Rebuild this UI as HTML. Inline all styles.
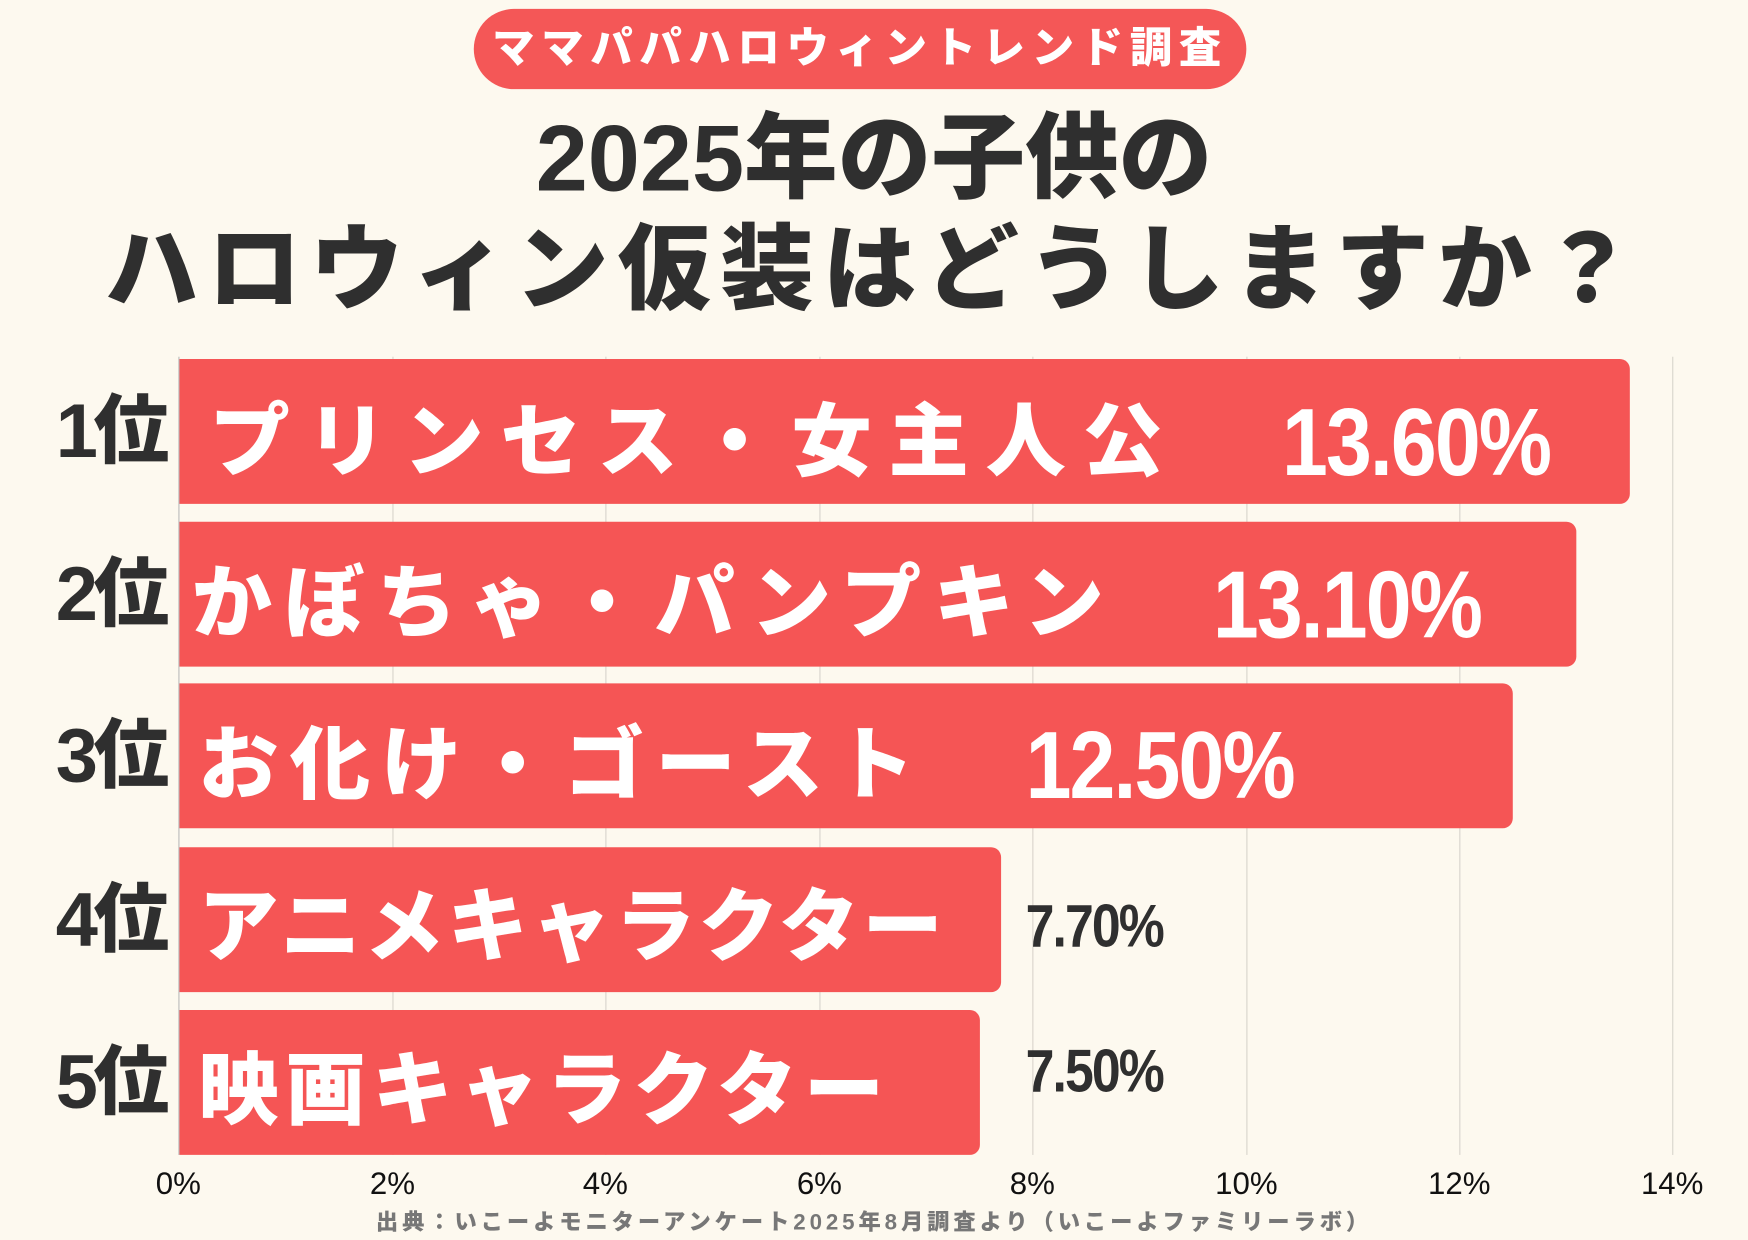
<!DOCTYPE html>
<html><head><meta charset="utf-8"><style>
html,body{margin:0;padding:0;background:#fdf9ef;}
#w{width:1748px;height:1240px;overflow:hidden;position:relative;background:#fdf9ef;}
#c{position:absolute;left:0;top:0;width:1568px;height:1112px;transform:scale(1.11480);transform-origin:0 0;font-family:"Liberation Sans","Noto Sans CJK JP",sans-serif;}
.a{position:absolute;white-space:nowrap;}
.pill{left:425px;top:8px;width:693px;height:72px;border-radius:36px;background:#f45757;color:#fff;font-weight:900;font-size:38px;line-height:72px;text-align:center;letter-spacing:6px;}
.t{left:0;width:1568px;text-align:center;color:#2f2f2f;font-weight:900;font-size:84px;}
.g{position:absolute;top:320px;width:1px;height:716px;background:#d8d4cc;}
.bar{position:absolute;left:161px;height:130px;background:#f55555;border-radius:0 9px 9px 0;}
.lb{position:absolute;color:#fff;font-weight:900;font-size:72px;line-height:130px;}
.rk{position:absolute;left:50px;width:110px;color:#2f2f2f;font-weight:900;font-size:68px;line-height:130px;letter-spacing:-4px;}
.pv{position:absolute;font-weight:700;line-height:130px;transform-origin:0 50%;transform:scaleX(0.86);letter-spacing:-2px;}
.tk{position:absolute;top:1046px;width:80px;margin-left:-40px;text-align:center;font-size:28px;color:#111;}
</style></head><body><div id="w"><div id="c">
<div class="a pill">ママパパハロウィントレンド調査</div>
<div class="a t" style="top:92px;line-height:100px;">2025年の子供の</div>
<div class="a t" style="top:192px;line-height:100px;letter-spacing:8px;">ハロウィン仮装はどうしますか？</div>
<div class="g" style="left:352px"></div><div class="g" style="left:543px"></div><div class="g" style="left:735px"></div><div class="g" style="left:926px"></div><div class="g" style="left:1118px"></div><div class="g" style="left:1309px"></div><div class="g" style="left:1500px"></div>
<div class="g" style="left:160px;background:#bbb"></div>
<div class="bar" style="top:322px;width:1301px"></div>
<div class="bar" style="top:468px;width:1253px"></div>
<div class="bar" style="top:613px;width:1196px"></div>
<div class="bar" style="top:760px;width:737px"></div>
<div class="bar" style="top:906px;width:718px"></div>
<div class="rk" style="top:322px">1位</div>
<div class="rk" style="top:468px">2位</div>
<div class="rk" style="top:613px">3位</div>
<div class="rk" style="top:760px">4位</div>
<div class="rk" style="top:906px">5位</div>
<div class="lb" style="left:188px;top:332px;letter-spacing:15px">プリンセス・女主人公</div>
<div class="lb" style="left:172px;top:477px;letter-spacing:11px">かぼちゃ・パンプキン</div>
<div class="lb" style="left:178px;top:622px;letter-spacing:10px">お化け・ゴースト</div>
<div class="lb" style="left:178px;top:767px;letter-spacing:3px">アニメキャラクター</div>
<div class="lb" style="left:178px;top:914px;letter-spacing:6px">映画キャラクター</div>
<div class="pv" style="left:1150px;top:332px;font-size:86px;color:#fff">13.60%</div>
<div class="pv" style="left:1088px;top:478px;font-size:86px;color:#fff">13.10%</div>
<div class="pv" style="left:920px;top:622px;font-size:86px;color:#fff">12.50%</div>
<div class="pv" style="left:920px;top:766px;font-size:54px;color:#2f2f2f">7.70%</div>
<div class="pv" style="left:920px;top:896px;font-size:54px;color:#2f2f2f">7.50%</div>
<div class="tk" style="left:160px">0%</div><div class="tk" style="left:352px">2%</div><div class="tk" style="left:543px">4%</div><div class="tk" style="left:735px">6%</div><div class="tk" style="left:926px">8%</div><div class="tk" style="left:1118px">10%</div><div class="tk" style="left:1309px">12%</div><div class="tk" style="left:1500px">14%</div>
<div class="a" style="left:0;width:1568px;top:1080px;text-align:center;font-size:20px;font-weight:900;color:#777;letter-spacing:3.5px;">出典：いこーよモニターアンケート2025年8月調査より（いこーよファミリーラボ）</div>
</div></div></body></html>
